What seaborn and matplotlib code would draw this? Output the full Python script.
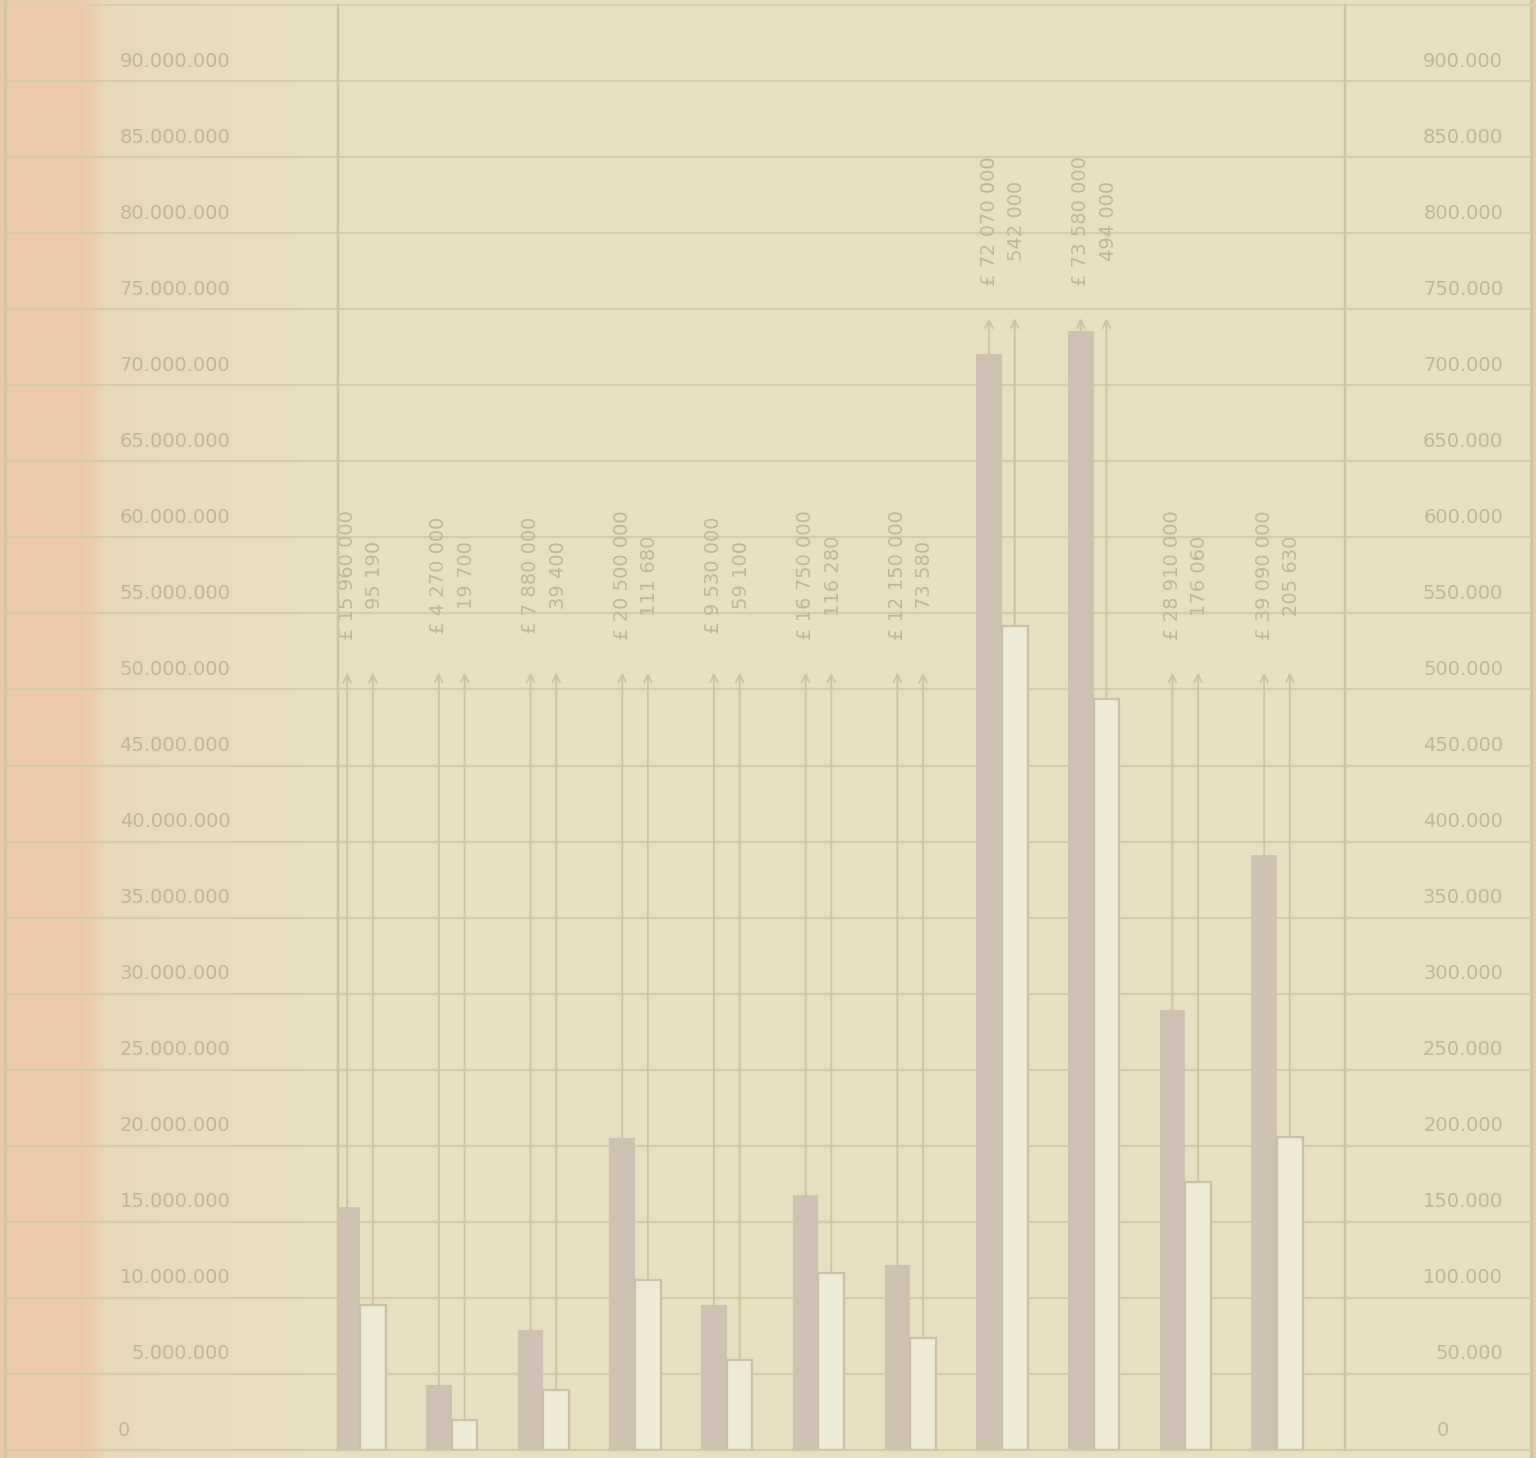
import numpy as np
import pandas as pd
import matplotlib.pyplot as plt
import seaborn as sns
from matplotlib.transforms import offset_copy

# values (bars: grey = pounds on left scale, white = count on right scale)
group_index = list(range(11))
pounds = [15_960_000, 4_270_000, 7_880_000, 20_500_000, 9_530_000,
          16_750_000, 12_150_000, 72_070_000, 73_580_000, 28_910_000, 39_090_000]
counts = [95_190, 19_700, 39_400, 111_680, 59_100,
          116_280, 73_580, 542_000, 494_000, 176_060, 205_630]

left_ticks = list(range(0, 90_000_001, 5_000_000))
right_ticks = list(range(0, 900_001, 50_000))
left_labels = [f"{v:,}".replace(",", ".") for v in left_ticks]
right_labels = [f"{v:,}".replace(",", ".") for v in right_ticks]
pound_labels = [f"£ {v:,}".replace(",", " ") for v in pounds]
count_labels = [f"{v:,}".replace(",", " ") for v in counts]

PAPER = '#E8DFC0'
SALMON = '#EDC8A6'
GRID = '#D5CBA7'
INK = '#C0B79A'
GREY_BAR = '#D0C2B2'
WHITE_BAR = '#EEE9D4'
BAR_EDGE = '#CCBEA8'

sns.set_style('white')
plt.rcParams['font.family'] = ['DejaVu Sans']

fig = plt.figure(figsize=(15.36, 14.58), dpi=100)
fig.patch.set_facecolor(PAPER)

# paper background with the salmon edge on the left
bg = fig.add_axes([0, 0, 1, 1])
bg.set_xlim(0, 1536)
bg.set_ylim(1458, 0)
bg.axis('off')
px = np.arange(1536)
alpha = 0.9 * np.clip((110 - px) / 40.0, 0, 1) + 0.25 * np.clip((300 - px) / 190.0, 0, 1) * (px >= 70)
alpha = np.clip(alpha, 0, 0.9)
rgba = np.zeros((1, 1536, 4))
rgba[..., :3] = np.array([int(SALMON[i:i + 2], 16) for i in (1, 3, 5)]) / 255
rgba[..., 3] = alpha
bg.imshow(rgba, extent=(0, 1536, 1458, 0), aspect='auto')
bg.axvline(5, color='#CFC5A2', lw=2)
bg.axvline(1531, color='#CFC5A2', lw=2)
bg.axvspan(1532, 1536, color=SALMON)
bg.axhline(5, color='#D8CFAE', lw=1.5)

ax = fig.add_axes([338 / 1536, 8 / 1458, 1007 / 1536, 1445 / 1458])
ax.patch.set_alpha(0)

sns.barplot(x=[i - 0.14 for i in group_index], y=pounds, native_scale=True,
            orient='x', width=0.28, color=GREY_BAR, saturation=1,
            linewidth=0, ax=ax, zorder=2)

ax2 = ax.twinx()
ax2.patch.set_alpha(0)
sns.barplot(x=[i + 0.14 for i in group_index], y=counts, native_scale=True,
            orient='x', width=0.28, color=WHITE_BAR, saturation=1,
            edgecolor=BAR_EDGE, linewidth=1.6, ax=ax2, zorder=2)

for a in (ax, ax2):
    a.set_xlim(-0.24, 10.742)
    a.set_xlabel('')
    a.set_ylabel('')
    a.tick_params(length=0, labelbottom=False, labelleft=False, labelright=False)
    for side in ('top', 'bottom'):
        a.spines[side].set_visible(False)
    for side in ('left', 'right'):
        a.spines[side].set_color('#CEC4A0')
        a.spines[side].set_linewidth(1.6)
ax.set_ylim(0, 95_000_000)
ax2.set_ylim(0, 950_000)
ax.set_yticks(left_ticks)
ax2.set_yticks(right_ticks)

# ruled lines run across the whole sheet
for v in left_ticks:
    ax.axhline(v, xmin=-0.331, xmax=1.184, color=GRID, lw=1.6, zorder=0.5, clip_on=False)

# scale labels sit just above their rule
ltrans = offset_copy(ax.get_yaxis_transform(), fig=fig, y=20, units='dots')
rtrans = offset_copy(ax2.get_yaxis_transform(), fig=fig, y=20, units='dots')
for v, lab in zip(left_ticks, left_labels):
    if v == 0:
        ax.text(-0.219, v, lab, transform=ltrans, ha='left', va='center',
                fontsize=14, color=INK)
    else:
        ax.text(-0.107, v, lab, transform=ltrans, ha='right', va='center',
                fontsize=14, color=INK)
for v, lab in zip(right_ticks, right_labels):
    if v == 0:
        ax2.text(1.097, v, lab, transform=rtrans, ha='center', va='center',
                 fontsize=14, color=INK)
    else:
        ax2.text(1.157, v, lab, transform=rtrans, ha='right', va='center',
                 fontsize=14, color=INK)

# leader arrows and vertical value labels
arrow_kw = dict(arrowstyle='->', color='#CDC3A3', lw=1.3,
                shrinkA=0, shrinkB=0, mutation_scale=14)
for i in group_index:
    level = 51_100_000 if pounds[i] < 50_000_000 else 74_400_000
    xg, xw = i - 0.14, i + 0.14
    ax.annotate('', xy=(xg, level), xytext=(xg, pounds[i]),
                arrowprops=arrow_kw, zorder=3)
    ax.annotate('', xy=(xw, level), xytext=(xw, counts[i]),
                textcoords=ax2.transData, arrowprops=arrow_kw, zorder=3)
    ax.text(xg, level + 6_400_000, pound_labels[i], rotation=90,
            ha='center', va='center', fontsize=14, color=INK)
    ax.text(xw + 0.02, level + 6_400_000, count_labels[i], rotation=90,
            ha='center', va='center', fontsize=14, color=INK)

fig.savefig('out.png', dpi=100, facecolor=PAPER)
